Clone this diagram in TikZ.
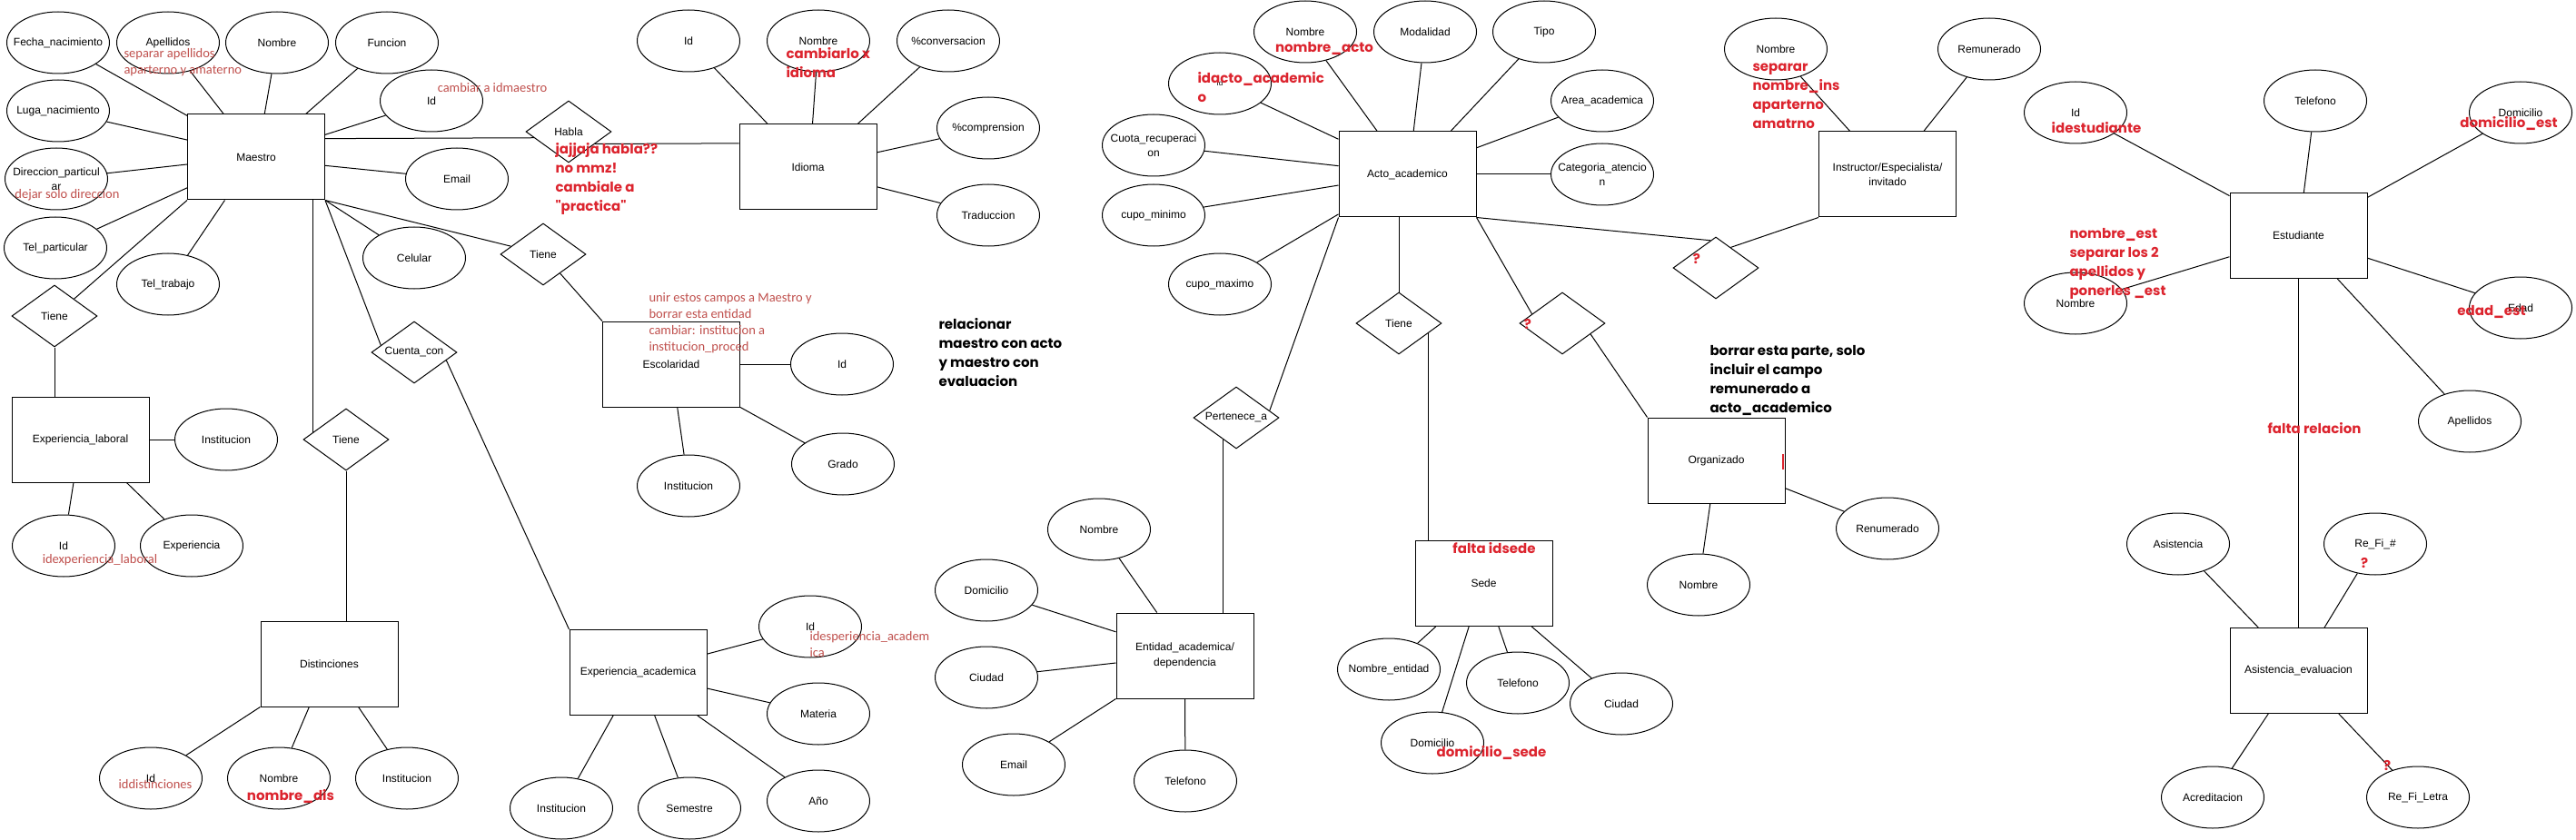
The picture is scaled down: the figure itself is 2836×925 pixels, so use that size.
\documentclass[tikz,border=0pt]{standalone}
\usepackage{fontspec}
\setmainfont{Liberation Sans}
\newfontfamily\notefont{Poppins}[Ligatures=TeXOff]
\newfontfamily\thinfont{Carlito}
\usetikzlibrary{shapes}

\definecolor{notered}{RGB}{192,80,77}
\definecolor{notebold}{RGB}{220,36,46}

\tikzset{
  attr/.style={ellipse, draw, minimum width=113pt, minimum height=68pt, inner xsep=-30pt, inner ysep=0pt, align=center, font=\fontsize{12}{16.5}\selectfont},
  entidad/.style={rectangle, draw, minimum width=151pt, minimum height=94pt, align=center, font=\fontsize{12}{16.5}\selectfont},
  relacion/.style={diamond, draw, aspect=1.38, minimum width=94pt, minimum height=68pt, inner xsep=-15pt, inner ysep=0pt, font=\fontsize{12}{16.5}\selectfont},
  thinnote/.style={text=notered, font=\thinfont\fontsize{14.5}{18}\selectfont, align=left, inner sep=0pt},
  boldnote/.style={text=notebold, font=\notefont\bfseries\fontsize{15}{21}\selectfont, align=left, inner sep=0pt},
  blacknote/.style={text=black, font=\notefont\bfseries\fontsize{15}{21}\selectfont, align=left, inner sep=0pt}
}

\begin{document}
\begin{tikzpicture}[x=1pt, y=-1pt, line width=1pt]
  \useasboundingbox (0,0) rectangle (2836,925);
  \fill[white] (0,0) rectangle (2836,925);

  % Maestro
  \node[entidad] (maestro) at (282,173) {Maestro};
  \node[attr] (fechaM) at (64,47) {Fecha\_nacimiento};
  \node[attr] (apellidosM) at (185,47) {Apellidos};
  \node[attr] (nombreM) at (305,47) {Nombre};
  \node[attr] (funcionM) at (426,47) {Funcion};
  \node[attr] (idM) at (475,111) {Id};
  \node[attr] (lugaM) at (64,122) {Luga\_nacimiento};
  \node[attr] (direccionM) at (62,197) {Direccion\_particul\\ar};
  \node[attr] (telpM) at (61,273) {Tel\_particular};
  \node[attr] (teltM) at (185,313) {Tel\_trabajo};
  \node[attr] (emailM) at (503,197) {Email};
  \node[attr] (celularM) at (456,284) {Celular};

  \draw (maestro.149) -- (fechaM);
  \draw (maestro.127.5) -- (apellidosM);
  \draw (maestro.79) -- (nombreM);
  \draw (maestro.41.6) -- (funcionM);
  \draw (maestro.166.5) -- (lugaM);
  \draw (maestro.186.8) -- (direccionM);
  \draw (maestro.204.4) -- (telpM);
  \draw (maestro.234.1) -- (teltM);
  \draw (maestro.18.4) -- (idM);
  \draw (maestro.353.2) -- (emailM);
  \draw (maestro.south east) -- (celularM);

  % relaciones de Maestro
  \node[relacion] (tieneL) at (60,348) {Tiene};
  \node[relacion] (habla) at (626,145) {Habla};
  \node[relacion] (tieneE) at (598,280) {Tiene};
  \node[relacion] (cuenta) at (456,388) {Cuenta\_con};
  \node[relacion] (tieneD) at (381,484) {Tiene};

  % Experiencia laboral
  \node[entidad] (explab) at (88.5,484) {Experiencia\_laboral};
  \node[attr] (instE) at (249,484) {Institucion};
  \node[attr] (idE) at (70,601) {Id};
  \node[attr] (expE) at (211,601) {Experiencia};

  \draw (maestro.south west) -- (tieneL);
  \draw (tieneL.south) -- (tieneL.south |- explab.north);
  \draw (explab.east) -- (instE);
  \draw (explab.261) -- (idE);
  \draw (explab.317.1) -- (expE);

  % Distinciones
  \node[entidad] (dist) at (362.5,731) {Distinciones};
  \node[attr] (idD) at (166,857) {Id};
  \node[attr] (nombreD) at (307,857) {Nombre};
  \node[attr] (instD) at (448,857) {Institucion};

  \draw (tieneD.167.5) -- (tieneD.167.5 |- maestro.south);
  \draw (tieneD.south) -- (tieneD.south |- dist.north);
  \draw (dist.south west) -- (idD);
  \draw (dist.245.4) -- (nombreD);
  \draw (dist.304.7) -- (instD);

  % Idioma
  \node[entidad] (idioma) at (889.5,184) {Idioma};
  \node[attr] (idI) at (758,45) {Id};
  \node[attr] (nombreI) at (901,45) {Nombre};
  \node[attr] (convI) at (1044,45) {\%conversacion};
  \node[attr] (compI) at (1088,141) {\%comprension};
  \node[attr] (tradI) at (1088,237) {Traduccion};

  \draw (maestro.15.6) -- (habla.190.4);
  \draw (habla.335.9) -- (idioma.161);
  \draw (idioma.133.4) -- (idI);
  \draw (idioma.84.5) -- (nombreI);
  \draw (idioma.41.3) -- (convI);
  \draw (idioma.12.7) -- (compI);
  \draw (idioma.344.5) -- (tradI);

  % Escolaridad
  \node[entidad] (esc) at (739,401) {Escolaridad};
  \node[attr] (idS) at (927,401) {Id};
  \node[attr] (instS) at (758,535) {Institucion};
  \node[attr] (gradoS) at (928,511) {Grado};

  \draw (maestro.south east) -- (tieneE);
  \draw (tieneE) -- (esc.north west);
  \draw (esc.east) -- (idS);
  \draw (esc.278.5) -- (instS);
  \draw (esc.south east) -- (gradoS);

  % Experiencia academica
  \node[entidad] (expac) at (702.5,740.5) {Experiencia\_academica};
  \node[attr] (idA) at (892,690) {Id};
  \node[attr] (materiaA) at (901,786) {Materia};
  \node[attr] (anoA) at (901,882) {Año};
  \node[attr] (instA) at (618,890) {Institucion};
  \node[attr] (semA) at (759,890) {Semestre};

  \draw (maestro.south east) -- (cuenta.168);
  \draw (cuenta.346) -- (expac.north west);
  \draw (expac.15.2) -- (idA);
  \draw (expac.347) -- (materiaA);
  \draw (expac.324) -- (anoA);
  \draw (expac.240.8) -- (instA);
  \draw (expac.291.3) -- (semA);

  % Acto academico
  \node[entidad] (acto) at (1549.5,192) {Acto\_academico};
  \node[attr, font=\fontsize{8}{10}\selectfont] (idK) at (1343,92) {Id};
  \node[attr] (nombreK) at (1437,35) {Nombre};
  \node[attr] (modK) at (1569,35) {Modalidad};
  \node[attr] (tipoK) at (1700,35) {Tipo};
  \node[attr] (areaK) at (1764,111) {Area\_academica};
  \node[attr] (catK) at (1764,192) {Categoria\_atencio\\n};
  \node[attr] (cuotaK) at (1270,160) {Cuota\_recuperaci\\on};
  \node[attr] (minK) at (1270,237) {cupo\_minimo};
  \node[attr] (maxK) at (1343,313) {cupo\_maximo};

  \draw (acto.153.9) -- (idK);
  \draw (acto.125.5) -- (nombreK);
  \draw (acto.82.1) -- (modK);
  \draw (acto.45.9) -- (tipoK);
  \draw (acto.21) -- (areaK);
  \draw (acto.east) -- (catK);
  \draw (acto.173.2) -- (cuotaK);
  \draw (acto.189) -- (minK);
  \draw (acto.210.8) -- (maxK);

  \node[relacion] (pert) at (1361,460) {Pertenece\_a};
  \node[relacion] (tieneK) at (1540,356) {Tiene};
  \node[relacion] (q1) at (1720,356) {};
  \node[relacion] (q2) at (1889,295) {};

  % Entidad academica
  \node[entidad] (ent) at (1304.5,722) {Entidad\_academica/\\dependencia};
  \node[attr] (nombreN) at (1210,583) {Nombre};
  \node[attr] (domN) at (1086,650) {Domicilio};
  \node[attr] (ciudadN) at (1086,746) {Ciudad};
  \node[attr] (emailN) at (1116,842) {Email};
  \node[attr] (telN) at (1305,860) {Telefono};

  \draw (acto.south west) -- (pert.12);
  \draw (pert.238.7) -- (pert.238.7 |- ent.north);
  \draw (ent.123.8) -- (nombreN);
  \draw (ent.161.7) -- (domN);
  \draw (ent.186.8) -- (ciudadN);
  \draw (ent.south west) -- (emailN);
  \draw (ent.south) -- (telN);

  % Sede
  \node[entidad] (sede) at (1633.5,642.5) {Sede};
  \node[attr] (nomentS) at (1529,737) {Nombre\_entidad};
  \node[attr] (domS) at (1577,818) {Domicilio};
  \node[attr] (telS) at (1671,752) {Telefono};
  \node[attr] (ciudadS) at (1785,775) {Ciudad};

  \draw (tieneK.north) -- (tieneK.north |- acto.south);
  \draw (tieneK.341.6) -- (tieneK.341.6 |- sede.north);
  \draw (sede.222.7) -- (nomentS);
  \draw (sede.251.9) -- (domS);
  \draw (sede.289.2) -- (telS);
  \draw (sede.318.9) -- (ciudadS);

  % Organizador
  \node[entidad] (org) at (1889.5,507) {Organizado};
  \node[attr] (nombreO) at (1870,644) {Nombre};
  \node[attr] (renO) at (2078,582) {Renumerado};

  \draw (acto.south east) -- (q1.163.6);
  \draw (q1.339.4) -- (org.north west);
  \draw (org.262.1) -- (nombreO);
  \draw (org.338.3) -- (renO);
  \draw[notebold, line width=2pt] (1963,500) -- (1963,517);

  % Instructor
  \node[entidad] (instr) at (2078,192) {Instructor/Especialista/\\invitado};
  \node[attr] (nombreR) at (1955,54) {Nombre};
  \node[attr] (remR) at (2190,54) {Remunerado};

  \draw (acto.south east) -- (q2.101);
  \draw (q2.54) -- (instr.south west);
  \draw (instr.131.8) -- (nombreR);
  \draw (instr.50.3) -- (remR);

  % Estudiante
  \node[entidad] (est) at (2530.5,259.5) {Estudiante};
  \node[attr] (idU) at (2285,124) {Id};
  \node[attr] (telU) at (2549,111) {Telefono};
  \node[attr] (domU) at (2775,124) {Domicilio};
  \node[attr] (nombreU) at (2285,334) {Nombre};
  \node[attr] (edadU) at (2775,339) {Edad};
  \node[attr] (apeU) at (2719,464) {Apellidos};

  \draw (est.150.6) -- (idU);
  \draw (est.83.4) -- (telU);
  \draw (est.29.4) -- (domU);
  \draw (est.197.3) -- (nombreU);
  \draw (est.342) -- (edadU);
  \draw (est.312.5) -- (apeU);

  % Asistencia evaluacion
  \node[entidad] (ae) at (2530.5,738.5) {Asistencia\_evaluacion};
  \node[attr] (asisV) at (2398,599) {Asistencia};
  \node[attr] (refV) at (2615,599) {Re\_Fi\_\#};
  \node[attr] (acrV) at (2436,878) {Acreditacion};
  \node[attr] (refLV) at (2662,878) {Re\_Fi\_Letra};

  \draw (est.south) -- (ae.north);
  \draw (ae.133.8) -- (asisV);
  \draw (ae.59) -- (refV);
  \draw (ae.235.6) -- (acrV);
  \draw (ae.313.1) -- (refLV);

  % notas
  \node[thinnote, anchor=west] (n1) at (136,69) {separar apellidos\\aparterno y amaterno};
  \node[thinnote] (n2) at (542,97) {cambiar a idmaestro};
  \node[thinnote] (n3) at (74,215) {dejar solo direccion};
  \node[thinnote] (n4) at (110,617) {idexperiencia\_laboral};
  \node[thinnote] (n5) at (171,864) {iddistinciones};
  \node[thinnote, anchor=west] (n6) at (714,356) {unir estos campos a Maestro y\\borrar esta entidad\\cambiar: institucion a\\institucion\_proced};
  \node[thinnote, anchor=west] (n7) at (891,710) {idesperiencia\_academ\\ica};

  \node[boldnote] (b1) at (320,877) {nombre\_dis};
  \node[boldnote, anchor=west] (b2) at (865,69.5) {cambiarlo x\\idioma};
  \node[boldnote, anchor=west] (b3) at (611,196.5) {jajjaja habla??\\no mmz!\\cambiale a\\"practica"};
  \node[boldnote, anchor=west] (b4) at (1318,96.5) {idacto\_academic\\o};
  \node[boldnote] (b5) at (1458,53) {nombre\_acto};
  \node[boldnote] (b6) at (1682,357) {?};
  \node[boldnote] (b7) at (1868,285) {?};
  \node[boldnote] (b8) at (1645,604) {falta idsede};
  \node[boldnote] (b9) at (1642,829) {domicilio\_sede};
  \node[boldnote, anchor=west] (b10) at (1929,105.5) {separar\\nombre\_ins\\aparterno\\amatrno};
  \node[boldnote] (b11) at (2308,141) {idestudiante};
  \node[boldnote, anchor=west] (b12) at (2278,290.5) {nombre\_est\\separar los 2\\apellidos y\\ponerles \_est};
  \node[boldnote] (b13) at (2762,136) {domicilio\_est};
  \node[boldnote] (b14) at (2743,343) {edad\_est};
  \node[boldnote] (b15) at (2548,472) {falta relacion};
  \node[boldnote] (b16) at (2603,620) {?};
  \node[boldnote] (b17) at (2628,843) {?};

  \node[blacknote, anchor=west] (k1) at (1033,388.5) {relacionar\\maestro con acto\\y maestro con\\evaluacion};
  \node[blacknote, anchor=west] (k2) at (1882,418.5) {borrar esta parte, solo\\incluir el campo\\remunerado a\\acto\_academico};
\end{tikzpicture}
\end{document}
